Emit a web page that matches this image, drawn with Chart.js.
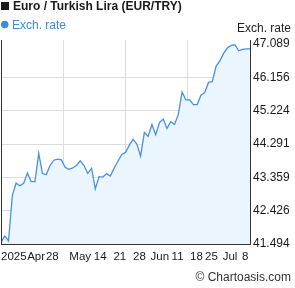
<!DOCTYPE html>
<html>
<head>
<meta charset="utf-8">
<script src="https://cdn.jsdelivr.net/npm/chart.js@4"></script>
<style>
  html, body { margin: 0; padding: 0; background: #fff; }
  #wrap { width: 295px; height: 288px; }
</style>
</head>
<body>
<div id="wrap"><canvas id="rateChart" width="295" height="288"></canvas></div>
<script>
// EUR/TRY daily rates
const rates = [
  41.531, 41.720, 41.579, 42.850, 43.198, 43.124, 43.189, 43.480, 43.237, 43.237,
  44.029, 43.464, 43.435, 43.690, 43.839, 43.868, 43.848, 43.642, 43.585, 43.622,
  43.690, 43.820, 43.690, 43.472, 43.613, 43.040, 43.379, 43.367, 43.464, 43.396,
  43.622, 43.811, 44.000, 44.057, 44.255, 44.424, 44.291, 43.952, 44.616, 44.503,
  44.837, 44.554, 44.893, 44.989, 44.724, 44.913, 44.837, 45.119, 45.741, 45.526,
  45.526, 45.394, 45.394, 45.656, 45.733, 46.015, 46.035, 46.467, 46.617, 46.826,
  46.976, 47.052, 47.069, 46.900, 46.939, 46.956, 46.956
];

// x axis tick labels and where they sit (in data point index units)
const xLabels = ['2025', 'Apr', '28', 'May', '14', '21', '28', 'Jun', '11', '18', '25', 'Jul', '8'];
const xLabelAt = [3.4, 9.3, 13.6, 21.0, 26.3, 31.5, 36.7, 42.1, 46.8, 51.8, 55.8, 60.7, 64.7];
const xGridAt = [16.5, 33, 49.5];

const yTicks = [41.494, 42.426, 43.359, 44.291, 45.224, 46.156, 47.089];
const yGridAt = [42.426, 43.359, 44.291, 45.224, 46.156];

const FONT = "'Liberation Sans', Arial, sans-serif";
const GRID = '#dddddd';
const NONE = 'rgba(0,0,0,0)';
const Y_MIN = 41.494;
const Y_MAX = 47.202;

//legend, axis title, credit and the left frame line

const textPlugin = {
    id: 'texts',
    afterDraw(chart) {
        const ctx = chart.ctx;
        const a = chart.chartArea;
        ctx.save();
        ctx.fillStyle = '#333';
        ctx.fillRect(Math.round(a.left), Math.round(a.top), 1, Math.round(a.bottom - a.top));

        ctx.fillStyle = '#1a1a1a';
        ctx.fillRect(1, 2, 8, 8);
        ctx.font = 'bold 12px ' + FONT;
        ctx.textBaseline = 'alphabetic';
        ctx.textAlign = 'left';
        ctx.fillText('Euro / Turkish Lira (EUR/TRY)', 13, 10);

        ctx.fillStyle = '#3b8be3';
        ctx.beginPath();
        ctx.arc(4.7, 24.5, 3.8, 0, Math.PI * 2);
        ctx.fill();
        ctx.font = '12px ' + FONT;
        ctx.fillText('Exch. rate', 12, 29);

        ctx.fillStyle = '#222';
        ctx.textAlign = 'right';
        ctx.fillText('Exch. rate', 291, 32);
        ctx.fillStyle = '#333';
        ctx.fillText('\u00a9 Chartoasis.com', 291, 281);
        ctx.restore();
    }
};

function createChart() {
    const ctx = document.getElementById('rateChart').getContext('2d');
    const points = rates.map((v, i) => ({ x: i, y: v }));
    new Chart(ctx, {
        type: 'line',
        data: {
            datasets: [{
                label: 'Exch. rate',
                data: points,
                xAxisID: 'x',
                yAxisID: 'y',
                borderColor: '#4a90e2',
                borderWidth: 1.3,
                backgroundColor: '#ebf5fe',
                fill: 'start',
                pointRadius: 0,
                tension: 0
            }]
        },
        options: {
            responsive: false,
            animation: false,
            layout: { padding: { top: 40, left: 1, right: 0, bottom: 0 } },
            plugins: { legend: { display: false }, tooltip: { enabled: false } },
            scales: {
                // labels + bottom border
                x: {
                    type: 'linear',
                    position: 'bottom',
                    min: 0,
                    max: rates.length - 1,
                    afterBuildTicks(axis) {
                        axis.ticks = xLabelAt.map(v => ({ value: v }));
                    },
                    afterFit(axis) {
                        axis.height = 44;
                        axis.paddingLeft = 0;
                        axis.paddingRight = 0;
                    },
                    grid: { drawTicks: false, color: NONE },
                    border: { display: true, color: '#333', width: 1 },
                    ticks: {
                        autoSkip: false,
                        maxRotation: 0,
                        padding: 6,
                        color: '#1a1a1a',
                        font: { family: FONT, size: 11.5 },
                        callback: v => {
                            const k = xLabelAt.indexOf(v);
                            return k >= 0 ? xLabels[k] : '';
                        }
                    }
                },
                // vertical grid lines only
                xGrid: {
                    type: 'linear',
                    position: 'top',
                    min: 0,
                    max: rates.length - 1,
                    afterBuildTicks(axis) {
                        axis.ticks = xGridAt.map(v => ({ value: v }));
                    },
                    afterFit(axis) {
                        axis.height = 0;
                        axis.paddingLeft = 0;
                        axis.paddingRight = 0;
                    },
                    grid: { drawTicks: false, color: GRID, lineWidth: 1 },
                    border: { display: false },
                    ticks: { display: false }
                },
                // labels + right border
                y: {
                    position: 'right',
                    min: Y_MIN,
                    max: Y_MAX,
                    afterBuildTicks(axis) {
                        axis.ticks = yTicks.map(v => ({ value: v }));
                    },
                    afterFit(axis) {
                        axis.width = 45;
                        axis.paddingTop = 0;
                        axis.paddingBottom = 0;
                    },
                    grid: { drawTicks: false, color: NONE },
                    border: { display: true, color: '#333', width: 1 },
                    ticks: {
                        padding: 3,
                        color: '#1a1a1a',
                        font: { family: FONT, size: 12 },
                        callback: v => v.toFixed(3)
                    }
                },
                // horizontal grid lines only
                yGrid: {
                    position: 'left',
                    min: Y_MIN,
                    max: Y_MAX,
                    afterBuildTicks(axis) {
                        axis.ticks = yGridAt.map(v => ({ value: v }));
                    },
                    afterFit(axis) {
                        axis.width = 0;
                        axis.paddingTop = 0;
                        axis.paddingBottom = 0;
                    },
                    grid: { drawTicks: false, color: GRID, lineWidth: 1 },
                    border: { display: false },
                    ticks: { display: false }
                }
            }
        },
        plugins: [textPlugin]
    });
}

window.onload = createChart;
</script>
</body>
</html>
